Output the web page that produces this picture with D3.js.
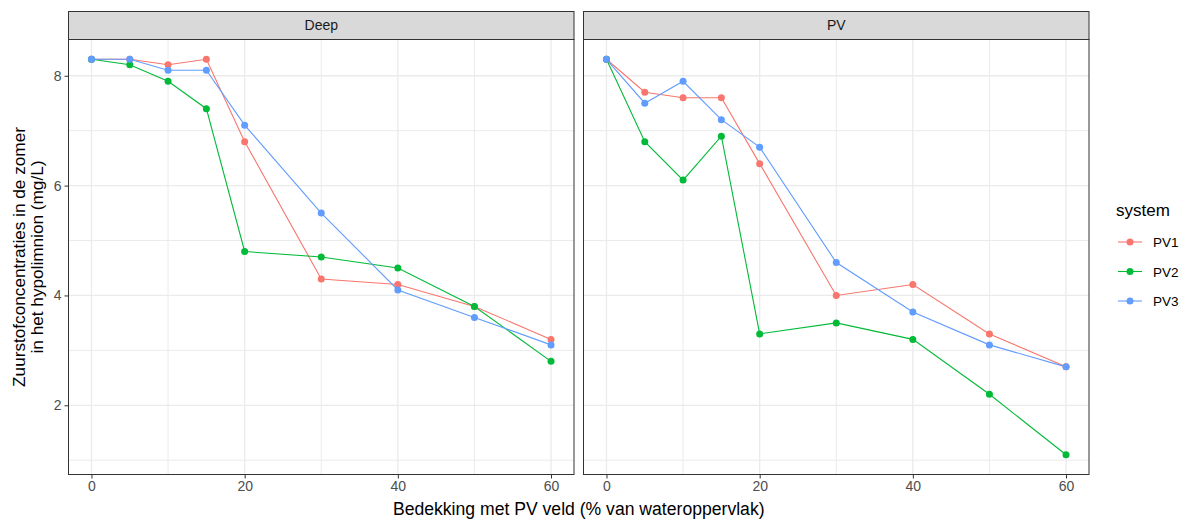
<!DOCTYPE html>
<html><head><meta charset="utf-8">
<script src="https://cdn.jsdelivr.net/npm/d3@7"></script>
<style>body{margin:0;background:#fff;} svg{display:block;font-family:"Liberation Sans",Arial,sans-serif;}</style>
</head><body>
<script>
const xValues = [0, 5, 10, 15, 20, 30, 40, 50, 60];
const panels = ["Deep", "PV"];
const systems = ["PV1", "PV2", "PV3"];
const colors = ["#F8766D", "#00BA38", "#619CFF"];
const deepPV1 = [8.3, 8.3, 8.2, 8.3, 6.8, 4.3, 4.2, 3.8, 3.2];
const deepPV2 = [8.3, 8.2, 7.9, 7.4, 4.8, 4.7, 4.5, 3.8, 2.8];
const deepPV3 = [8.3, 8.3, 8.1, 8.1, 7.1, 5.5, 4.1, 3.6, 3.1];
const pvPV1 = [8.3, 7.7, 7.6, 7.6, 6.4, 4.0, 4.2, 3.3, 2.7];
const pvPV2 = [8.3, 6.8, 6.1, 6.9, 3.3, 3.5, 3.2, 2.2, 1.1];
const pvPV3 = [8.3, 7.5, 7.9, 7.2, 6.7, 4.6, 3.7, 3.1, 2.7];
const xTicks = [0, 20, 40, 60];
const yTicks = [2, 4, 6, 8];
const xTitle = "Bedekking met PV veld (% van wateroppervlak)";
const yTitle = ["Zuurstofconcentraties in de zomer", "in het hypolimnion (mg/L)"];
const legendTitle = "system";

const dataByPanel = {Deep: [deepPV1, deepPV2, deepPV3], PV: [pvPV1, pvPV2, pvPV3]};

const W = 1187, H = 521;
const FONT = "Liberation Sans, Arial, sans-serif";
const svg = d3.select("body").append("svg").attr("width", W).attr("height", H);
svg.append("rect").attr("width", W).attr("height", H).attr("fill", "#fff");

const panelLeft = [68.5, 583.5];
const panelW = 505.5;
const stripTop = 11.5, stripH = 28, panelTop = 39.5, panelBottom = 474.5;

const y = d3.scaleLinear().domain([0.74, 8.66]).range([panelBottom, panelTop]);

panels.forEach((p, pi) => {
  const x0 = panelLeft[pi];
  const x = d3.scaleLinear().domain([-3, 63]).range([x0, x0 + panelW]);
  const g = svg.append("g");
  // strip
  g.append("rect").attr("x", x0).attr("y", stripTop).attr("width", panelW).attr("height", stripH)
    .attr("fill", "#D9D9D9").attr("stroke", "#333333").attr("stroke-width", 1);
  g.append("text").attr("x", x0 + panelW / 2).attr("y", stripTop + stripH / 2 + 4.8)
    .attr("text-anchor", "middle").attr("font-size", 14).attr("fill", "#1A1A1A").text(p);
  // grid minor
  const minorX = [10, 30, 50], minorY = [1, 3, 5, 7];
  g.selectAll(".mx").data(minorX).enter().append("line")
    .attr("x1", d => x(d)).attr("x2", d => x(d)).attr("y1", panelTop).attr("y2", panelBottom)
    .attr("stroke", "#EBEBEB").attr("stroke-width", 1);
  g.selectAll(".my").data(minorY).enter().append("line")
    .attr("y1", d => y(d)).attr("y2", d => y(d)).attr("x1", x0).attr("x2", x0 + panelW)
    .attr("stroke", "#EBEBEB").attr("stroke-width", 1);
  g.selectAll(".gx").data(xTicks).enter().append("line")
    .attr("x1", d => x(d)).attr("x2", d => x(d)).attr("y1", panelTop).attr("y2", panelBottom)
    .attr("stroke", "#EBEBEB").attr("stroke-width", 1.3);
  g.selectAll(".gy").data(yTicks).enter().append("line")
    .attr("y1", d => y(d)).attr("y2", d => y(d)).attr("x1", x0).attr("x2", x0 + panelW)
    .attr("stroke", "#EBEBEB").attr("stroke-width", 1.3);

  const data = dataByPanel[p];
  const line = d3.line().x((d, i) => x(xValues[i])).y(d => y(d));
  data.forEach((vals, si) => {
    g.append("path").attr("d", line(vals)).attr("fill", "none")
      .attr("stroke", colors[si]).attr("stroke-width", 1.1);
  });
  data.forEach((vals, si) => {
    g.selectAll(".pt" + si).data(vals).enter().append("circle")
      .attr("cx", (d, i) => x(xValues[i])).attr("cy", d => y(d)).attr("r", 3.5)
      .attr("fill", colors[si]);
  });
  // border
  g.append("rect").attr("x", x0).attr("y", panelTop).attr("width", panelW).attr("height", panelBottom - panelTop)
    .attr("fill", "none").attr("stroke", "#333333").attr("stroke-width", 1);

  // x axis
  const xa = svg.append("g").attr("transform", `translate(0,${panelBottom})`)
    .call(d3.axisBottom(x).tickValues(xTicks).tickSize(4).tickPadding(3).tickFormat(d3.format("d")));
  xa.select(".domain").remove();
  xa.selectAll("line").attr("stroke", "#333333");
  xa.selectAll("text").attr("fill", "#4D4D4D").attr("font-size", 14).attr("font-family", FONT);
});

// y axis
const ya = svg.append("g").attr("transform", `translate(${panelLeft[0]},0)`)
  .call(d3.axisLeft(y).tickValues(yTicks).tickSize(4).tickPadding(3).tickFormat(d3.format("d")));
ya.select(".domain").remove();
ya.selectAll("line").attr("stroke", "#333333");
ya.selectAll("text").attr("fill", "#4D4D4D").attr("font-size", 14).attr("font-family", FONT);

// titles
svg.append("text").attr("x", (panelLeft[0] + panelLeft[1] + panelW) / 2).attr("y", 515)
  .attr("text-anchor", "middle").attr("font-size", 17.6).attr("fill", "#000").text(xTitle);
const yt = svg.append("text").attr("transform", `translate(25,${(panelTop + panelBottom) / 2}) rotate(-90)`)
  .attr("text-anchor", "middle").attr("font-size", 17.2).attr("fill", "#000");
yTitle.forEach((t, i) => yt.append("tspan").attr("x", 0).attr("dy", i === 0 ? 0 : 17.5).text(t));

// legend
const lg = svg.append("g");
lg.append("text").attr("x", 1116).attr("y", 216).attr("font-size", 17).attr("fill", "#000").text(legendTitle);
systems.forEach((s, i) => {
  const cy = 242 + i * 29.5;
  lg.append("line").attr("x1", 1118).attr("x2", 1142).attr("y1", cy).attr("y2", cy)
    .attr("stroke", colors[i]).attr("stroke-width", 1.1);
  lg.append("circle").attr("cx", 1130).attr("cy", cy).attr("r", 3.5).attr("fill", colors[i]);
  lg.append("text").attr("x", 1153).attr("y", cy + 5).attr("font-size", 13.5).attr("fill", "#000").text(s);
});
</script>
</body></html>
